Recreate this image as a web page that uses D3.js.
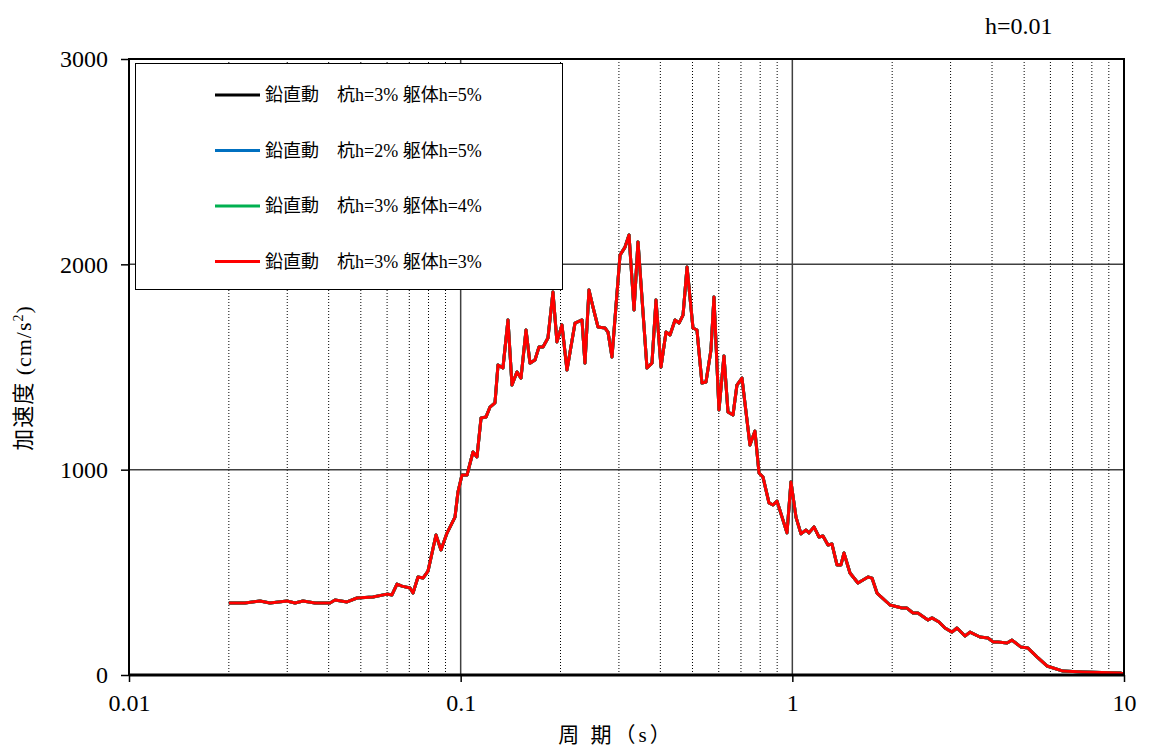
<!DOCTYPE html>
<html>
<meta charset="utf-8">
<script src="https://d3js.org/d3.v7.min.js"></script>
<style>
  body { margin: 0; background: #fff; }
  text { font-family: "Liberation Serif", "Noto Sans CJK JP", serif; fill: #000; }
</style>
<body>
<div id="my_dataviz"></div>
<script>
// period (s) and spectral acceleration (cm/s2)
var period = [0.0200, 0.02237, 0.02483, 0.02661, 0.02996, 0.03166, 0.03347, 0.03637, 0.04036, 0.04179,
  0.04543, 0.04869, 0.05441, 0.05995, 0.06206, 0.06427, 0.06653, 0.07034, 0.07183, 0.07436,
  0.07699, 0.07971, 0.08426, 0.08724, 0.09095, 0.09614, 0.09815, 0.1009, 0.1045, 0.1089,
  0.1120, 0.1152, 0.1192, 0.1226, 0.1269, 0.1296, 0.1341, 0.1389, 0.1428, 0.1478,
  0.1520, 0.1574, 0.1618, 0.1675, 0.1722, 0.1771, 0.1833, 0.1898, 0.1951, 0.2020,
  0.2092, 0.2212, 0.2322, 0.2370, 0.2437, 0.2506, 0.2594, 0.2723, 0.2781, 0.2859,
  0.3023, 0.3130, 0.3218, 0.3332, 0.3425, 0.3646, 0.3774, 0.3881, 0.4018, 0.4160,
  0.4278, 0.4429, 0.4554, 0.4682, 0.4814, 0.5017, 0.5158, 0.5340, 0.5491, 0.5684,
  0.5804, 0.6009, 0.6221, 0.6397, 0.6623, 0.6808, 0.7049, 0.7452, 0.7715, 0.7934,
  0.8156, 0.8504, 0.8745, 0.8991, 0.9636, 0.9906, 1.0256, 1.0619, 1.0995, 1.1225,
  1.1622, 1.2034, 1.2371, 1.2808, 1.3167, 1.3634, 1.4017, 1.4311, 1.4923, 1.5771,
  1.6912, 1.7386, 1.800, 1.970, 2.141, 2.216, 2.311, 2.391, 2.564, 2.637,
  2.768, 2.886, 3.029, 3.136, 3.316, 3.433, 3.679, 3.890, 4.027, 4.169,
  4.438, 4.595, 4.891, 5.134, 5.465, 5.859, 6.546, 7.520, 9.725, 10.0];

var accH3 = [351, 351, 360, 351, 360, 351, 360, 351, 351, 365,
  356, 375, 380, 394, 390, 443, 433, 424, 399, 477,
  472, 506, 682, 609, 691, 769, 891, 974, 974, 1086,
  1062, 1252, 1256, 1305, 1325, 1510, 1495, 1729, 1412, 1476,
  1446, 1680, 1519, 1534, 1597, 1597, 1641, 1865, 1622, 1705,
  1485, 1714, 1729, 1519, 1875, 1792, 1695, 1690, 1670, 1549,
  2045, 2084, 2143, 1778, 2109, 1495, 1519, 1826, 1500, 1670,
  1656, 1729, 1714, 1753, 1987, 1690, 1680, 1422, 1427, 1583,
  1841, 1291, 1554, 1281, 1266, 1412, 1446, 1120, 1188, 984,
  964, 838, 828, 847, 692, 940, 769, 687, 706, 692,
  721, 672, 677, 633, 638, 536, 536, 594, 497, 448,
  477, 472, 399, 341, 326, 326, 302, 302, 268, 278,
  258, 229, 209, 229, 190, 209, 185, 180, 161, 161,
  156, 170, 136, 131, 88, 44, 19, 15, 10, 5];

// the other three cases lie on top of the red one in the picture
var accPile3Body5 = accH3;
var accPile2Body5 = accH3;
var accPile3Body4 = accH3;

var seriesNames = ["鉛直動　杭h=3% 躯体h=5%", "鉛直動　杭h=2% 躯体h=5%",
                   "鉛直動　杭h=3% 躯体h=4%", "鉛直動　杭h=3% 躯体h=3%"];
var seriesColors = ["#000000", "#0070c0", "#00b050", "#ff0000"];
var seriesValues = [accPile3Body5, accPile2Body5, accPile3Body4, accH3];

var xTicks = [0.01, 0.1, 1, 10];
var yTicks = [0, 1000, 2000, 3000];

var W = 1149, H = 752;
var x0 = 129, x1 = 1124, y0 = 675, y1 = 59;

var svg = d3.select("#my_dataviz").append("svg")
  .attr("width", W).attr("height", H);

var x = d3.scaleLog().domain([0.01, 10]).range([x0, x1]);
var y = d3.scaleLinear().domain([0, 3000]).range([y0, y1]);

// minor vertical grid (dotted)
var minor = [];
[0.01, 0.1, 1].forEach(function(d) {
  for (var k = 2; k <= 9; k++) minor.push(d * k);
});
svg.append("g").selectAll("line").data(minor).enter().append("line")
  .attr("x1", function(d) { return x(d); }).attr("x2", function(d) { return x(d); })
  .attr("y1", y0).attr("y2", y1)
  .attr("stroke", "#000").attr("stroke-width", 1).attr("stroke-dasharray", "1,2");

// major grid
svg.append("g").selectAll("line").data([0.1, 1]).enter().append("line")
  .attr("x1", function(d) { return x(d); }).attr("x2", function(d) { return x(d); })
  .attr("y1", y0).attr("y2", y1)
  .attr("stroke", "#404040").attr("stroke-width", 1.5);
svg.append("g").selectAll("line").data([1000, 2000]).enter().append("line")
  .attr("x1", x0).attr("x2", x1)
  .attr("y1", function(d) { return y(d); }).attr("y2", function(d) { return y(d); })
  .attr("stroke", "#404040").attr("stroke-width", 1.5);

// series
var line = d3.line()
  .x(function(d) { return x(d[0]); })
  .y(function(d) { return y(d[1]); });

seriesValues.forEach(function(vals, i) {
  svg.append("path")
    .datum(period.map(function(p, j) { return [p, vals[j]]; }))
    .attr("fill", "none")
    .attr("stroke", seriesColors[i])
    .attr("stroke-width", 3)
    .attr("stroke-linejoin", "round")
    .attr("d", line);
});

// legend
var lg = svg.append("g");
lg.append("rect")
  .attr("x", 135.5).attr("y", 63.5).attr("width", 427).attr("height", 226)
  .attr("fill", "#fff").attr("stroke", "#000").attr("stroke-width", 1);
seriesNames.forEach(function(name, i) {
  var ly = 95 + i * 55.5;
  lg.append("line")
    .attr("x1", 215).attr("x2", 260).attr("y1", ly).attr("y2", ly)
    .attr("stroke", seriesColors[i]).attr("stroke-width", 3);
  lg.append("text")
    .attr("x", 265).attr("y", ly + 6)
    .style("font-size", "18px")
    .text(name);
});

// frame
svg.append("rect")
  .attr("x", x0).attr("y", y1).attr("width", x1 - x0).attr("height", y0 - y1)
  .attr("fill", "none").attr("stroke", "#000").attr("stroke-width", 2);
svg.append("line")
  .attr("x1", x0).attr("x2", x1).attr("y1", y0).attr("y2", y0)
  .attr("stroke", "#000").attr("stroke-width", 3);

// axes
var xAxis = svg.append("g")
  .attr("transform", "translate(0," + y0 + ")")
  .call(d3.axisBottom(x).tickValues(xTicks).tickSize(7).tickPadding(12)
    .tickFormat(function(d) { return String(d); }));
var yAxis = svg.append("g")
  .attr("transform", "translate(" + x0 + ",0)")
  .call(d3.axisLeft(y).tickValues(yTicks).tickSize(8).tickPadding(13)
    .tickFormat(d3.format("d")));
[xAxis, yAxis].forEach(function(a) {
  a.select(".domain").remove();
  a.selectAll(".tick line").attr("stroke", "#000").attr("stroke-width", 1.5);
  a.selectAll("text").style("font-size", "24px").style("font-family", "Liberation Serif");
});

// titles
svg.append("text")
  .attr("transform", "translate(31,378) rotate(-90)")
  .attr("text-anchor", "middle")
  .style("font-size", "22px")
  .style("letter-spacing", "1px")
  .html("加速度 (cm/s<tspan dy='-8' font-size='14px'>2</tspan><tspan dy='8'>)</tspan>");

svg.append("text")
  .attr("x", 616).attr("y", 742)
  .attr("text-anchor", "middle")
  .style("font-size", "21px")
  .style("letter-spacing", "3px")
  .text("周 期（s）");

svg.append("text")
  .attr("x", 985).attr("y", 34)
  .style("font-size", "24px")
  .text("h=0.01");
</script>
</body>
</html>
